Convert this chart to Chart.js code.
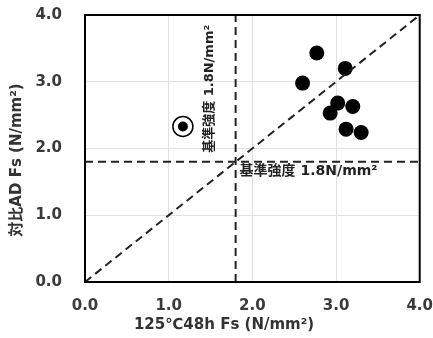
<!DOCTYPE html>
<html>
<head>
<meta charset="utf-8">
<script src="https://cdn.jsdelivr.net/npm/chart.js@4"></script>
<style>
  html, body { margin: 0; padding: 0; background: #fff; }
  canvas { display: block; }
</style>
</head>
<body>
<canvas id="chart" width="433" height="338"></canvas>
<script>
// values
const tickValues = [0, 1, 2, 3, 4];
const heatFs = [2.77, 3.11, 2.60, 3.02, 3.20, 2.93, 3.12, 3.30];   // 125℃48h Fs
const refFs  = [3.43, 3.20, 2.98, 2.68, 2.63, 2.53, 2.29, 2.24];   // 対比AD Fs
const outlierX = [1.17];
const outlierY = [2.33];
const baseStrength = 1.8;
const diagX = [0, 4];
const diagY = [0, 4];

const baseLabel = '基準強度 1.8N/mm²';
const xTitle = '125℃48h Fs (N/mm²)';
const yTitle = '対比AD Fs (N/mm²)';

const FONT = "'DejaVu Sans', 'Noto Sans CJK JP', sans-serif";

function pts(xs, ys) {
    return xs.map((x, i) => ({x: x, y: ys[i]}));
}

const dashed = {
    type: 'line',
    showLine: true,
    borderColor: '#222',
    borderWidth: 2,
    borderDash: [8, 5],
    pointRadius: 0,
    fill: false
};

const textPlugin = {
    id: 'texts',
    afterDraw(chart) {
        const ctx = chart.ctx;
        const xs = chart.scales.x, ys = chart.scales.y;
        const area = chart.chartArea;
        ctx.save();

        // plot frame
        ctx.strokeStyle = '#000';
        ctx.lineWidth = 2;
        ctx.strokeRect(area.left, area.top, area.right - area.left, area.bottom - area.top);

        ctx.fillStyle = '#222';
        ctx.font = "bold 14px " + FONT;

        // label under the horizontal line
        ctx.textAlign = 'left';
        ctx.textBaseline = 'middle';
        ctx.fillText(baseLabel, xs.getPixelForValue(baseStrength) + 4, ys.getPixelForValue(baseStrength) + 10);

        // label along the vertical line
        ctx.font = "bold 13px " + FONT;
        ctx.save();
        ctx.translate(xs.getPixelForValue(baseStrength) - 26, ys.getPixelForValue(baseStrength) - 9);
        ctx.rotate(-Math.PI / 2);
        ctx.textAlign = 'left';
        ctx.fillText(baseLabel, 0, 0);
        ctx.restore();

        // axis titles
        ctx.fillStyle = '#333';
        ctx.font = "bold 15px " + FONT;
        ctx.textAlign = 'center';
        ctx.fillText(xTitle, 224, 325);

        ctx.save();
        ctx.translate(17, 160);
        ctx.rotate(-Math.PI / 2);
        ctx.fillText(yTitle, 0, 0);
        ctx.restore();

        ctx.restore();
    }
};

new Chart(document.getElementById('chart'), {
    type: 'scatter',
    data: {
        datasets: [
            Object.assign({data: pts(diagX, diagY), borderColor: '#333'}, dashed),
            Object.assign({data: pts(diagX, [baseStrength, baseStrength])}, dashed),
            Object.assign({data: pts([baseStrength, baseStrength], diagY)}, dashed),
            {
                data: pts(heatFs, refFs),
                pointRadius: 7.5,
                pointBackgroundColor: '#000',
                pointBorderColor: '#000',
                pointBorderWidth: 0
            },
            {
                data: pts(outlierX, outlierY),
                pointRadius: 5,
                pointBackgroundColor: '#000',
                pointBorderWidth: 0
            },
            {
                data: pts(outlierX, outlierY),
                pointRadius: 10,
                pointBackgroundColor: 'rgba(0,0,0,0)',
                pointBorderColor: '#000',
                pointBorderWidth: 1.5
            }
        ]
    },
    options: {
        responsive: false,
        devicePixelRatio: 1,
        animation: false,
        layout: {
            padding: {left: 0, right: 13, top: 15, bottom: 0}
        },
        plugins: {
            legend: {display: false},
            tooltip: {enabled: false}
        },
        scales: {
            x: {
                type: 'linear',
                min: 0,
                max: 4,
                afterFit: function(scale) { scale.height = 56; },
                afterBuildTicks: function(scale) {
                    scale.ticks = tickValues.map(v => ({value: v}));
                },
                // invisible tick marks only push the labels away from the axis
                grid: {color: '#e0e0e0', lineWidth: 1, drawTicks: true, tickLength: 15, tickColor: 'rgba(0,0,0,0)'},
                border: {display: false},
                ticks: {
                    padding: 0,
                    color: '#3a3a3a',
                    font: {family: FONT, size: 15, weight: 'bold'},
                    callback: v => v.toFixed(1),
                    maxRotation: 0
                }
            },
            y: {
                type: 'linear',
                min: 0,
                max: 4,
                afterFit: function(scale) { scale.width = 85; },
                afterBuildTicks: function(scale) {
                    scale.ticks = tickValues.map(v => ({value: v}));
                },
                grid: {color: '#e0e0e0', lineWidth: 1, drawTicks: true, tickLength: 23, tickColor: 'rgba(0,0,0,0)'},
                border: {display: false},
                ticks: {
                    padding: 0,
                    color: '#3a3a3a',
                    font: {family: FONT, size: 15, weight: 'bold'},
                    callback: v => v.toFixed(1)
                }
            }
        }
    },
    plugins: [textPlugin]
});
</script>
</body>
</html>
